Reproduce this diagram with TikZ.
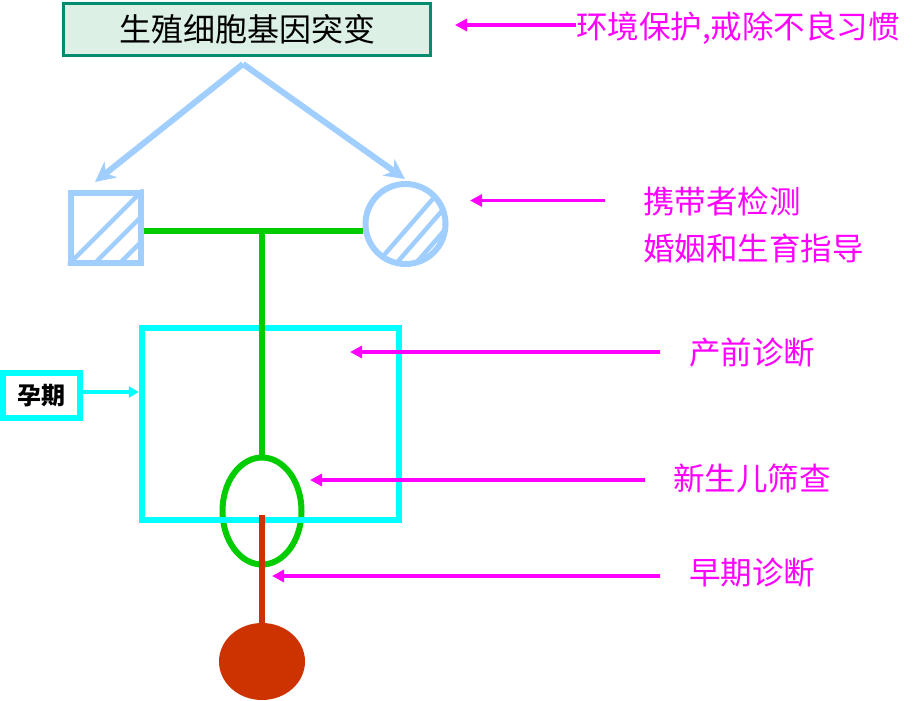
\documentclass[tikz,border=0pt]{standalone}
\usepackage{fontspec}
\newfontfamily\cjk{Noto Sans CJK SC}
\usetikzlibrary{arrows.meta,shapes.geometric}
\definecolor{boxfill}{HTML}{DCF0E6}
\definecolor{boxline}{HTML}{008C6E}
\definecolor{lblue}{HTML}{A0CEFF}
\definecolor{lgreen}{HTML}{00CC00}
\definecolor{cyanc}{HTML}{00FFFF}
\definecolor{redc}{HTML}{CC3300}
\definecolor{mag}{HTML}{FF00FF}
\tikzset{
  lbl/.style={anchor=west,inner sep=0pt,text=mag,font=\cjk\fontsize{31.5}{38}\selectfont},
  marrow/.style={draw=mag,line width=3.5pt,-{Triangle[length=12pt,width=12pt]}},
  barrow/.style={draw=lblue,line width=6pt,-{Stealth[length=20pt,width=20pt,inset=6pt]}},
  gline/.style={draw=lgreen,line width=6pt},
  hatch/.style={draw=lblue,line width=4.5pt},
}
\begin{document}
\begin{tikzpicture}[x=1pt,y=-1pt]
\useasboundingbox (0,0) rectangle (916,701);
% top box
\node[draw=boxline,fill=boxfill,line width=3.5pt,minimum width=367pt,minimum height=52pt,inner sep=0pt,
  font=\cjk\fontsize{32}{38}\selectfont] (top) at (247,29.5) {生殖细胞基因突变};
\node[lbl] (t1) at (576,28) {环境保护,戒除不良习惯};
\coordinate (a1) at (455,25);
\draw[marrow] (t1.west |- a1) -- (a1);

% blue arrows
\coordinate (apex) at (243,64);
\coordinate (tl) at (95,182);
\coordinate (tr) at (405,179);
\draw[barrow] (apex) -- (tl);
\draw[barrow] (apex) -- (tr);

% square and circle
\node[draw=lblue,line width=6pt,minimum size=70pt,inner sep=0pt] (sq) at (105.5,227.5) {};
\node[draw=lblue,line width=6pt,circle,minimum size=80pt,inner sep=0pt] (ci) at (405.5,224) {};
\begin{scope}
  \clip (sq.south west) rectangle (sq.north east);
  \draw[hatch] (sq.south west) -- (sq.north east);
  \draw[hatch] ([xshift=25pt]sq.south west) -- ([yshift=-25pt]sq.north east) ;
  \draw[hatch] ([xshift=50pt]sq.south west) -- ([yshift=-50pt]sq.north east) ;
\end{scope}
\begin{scope}
  \clip (ci.center) circle (40pt);
  \draw[hatch] (378,262) -- (438,193);
  \draw[hatch] (394,266) -- (454,197);
  \draw[hatch] (410,270) -- (470,201);
\end{scope}

% labels right
\node[lbl] (t2) at (643,201) {携带者检测};
\node[lbl] (t2b) at (643,248) {婚姻和生育指导};
\coordinate (a2) at (470,200.5);
\draw[marrow,shorten <=38pt] (t2.west |- a2) -- (a2);

% green ellipse (below cyan)
\node[draw=lgreen,line width=6pt,ellipse,minimum width=79pt,minimum height=107pt,inner sep=0pt] (el) at (262,511) {};

% cyan rectangle
\node[draw=cyanc,line width=6.5pt,minimum width=257pt,minimum height=192pt,inner sep=0pt] (preg) at (270.5,424) {};
\node[draw=cyanc,line width=6.5pt,minimum width=77pt,minimum height=45pt,inner sep=0pt,
  font=\cjk\bfseries\fontsize{24}{28}\selectfont] (yq) at (41.5,395.5) {孕期};
\draw[draw=cyanc,line width=3.5pt,-{Triangle[length=10pt,width=11pt]}] (yq.east |- 0,392) -- (preg.west |- 0,392);

% green lines
\coordinate (tj) at (262,231);
\draw[gline] (sq.east |- tj) -- (ci.west |- tj);
\draw[gline] (tj) -- (el.north);

% red line and baby
\node[fill=redc,ellipse,minimum width=86pt,minimum height=77pt,inner sep=0pt] (baby) at (262,661.5) {};
\coordinate (rs) at (262,515);
\draw[draw=redc,line width=6.5pt] (rs) -- (baby.north);

% other labels
\node[lbl] (t3) at (689,353) {产前诊断};
\coordinate (a3) at (350,352);
\draw[marrow,shorten <=29pt] (t3.west |- a3) -- (a3);
\node[lbl] (t4) at (673,478) {新生儿筛查};
\coordinate (a4) at (310,480);
\draw[marrow,shorten <=28pt] (t4.west |- a4) -- (a4);
\node[lbl] (t5) at (689,573) {早期诊断};
\coordinate (a5) at (272,576);
\draw[marrow,shorten <=29pt] (t5.west |- a5) -- (a5);
\end{tikzpicture}
\end{document}
